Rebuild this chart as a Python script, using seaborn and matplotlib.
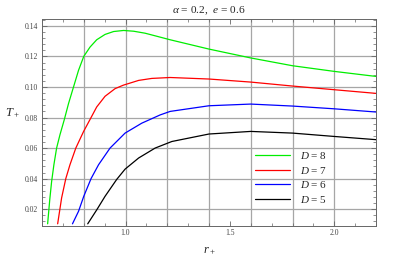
import matplotlib
matplotlib.use("Agg")
import matplotlib.pyplot as plt
import numpy as np
import pandas as pd
import seaborn as sns
from matplotlib.ticker import MultipleLocator, FixedLocator

sns.set_theme(style="ticks")
plt.rcParams['font.family'] = ['Liberation Serif', 'DejaVu Serif']
plt.rcParams['mathtext.fontset'] = 'custom'
plt.rcParams['mathtext.rm'] = 'Liberation Serif'
plt.rcParams['mathtext.it'] = 'Liberation Serif:italic'

# values
r_d8 = [0.627, 0.637, 0.646, 0.657, 0.670, 0.686, 0.707, 0.727, 0.751, 0.775, 0.8,
        0.830, 0.862, 0.902, 0.943, 0.991, 1.039, 1.094, 1.15, 1.214, 1.4, 1.6,
        1.8, 2.0, 2.2]
t_d8 = [0.0104, 0.0260, 0.038, 0.0491, 0.06, 0.0687, 0.0787, 0.0891, 0.10, 0.1109, 0.12,
        0.1261, 0.1309, 0.1344, 0.1363, 0.137, 0.1365, 0.1352, 0.1332, 0.1309, 0.1248, 0.119,
        0.1139, 0.1102, 0.1069]

r_d7 = [0.675, 0.694, 0.714, 0.734, 0.762, 0.799, 0.830, 0.862, 0.902, 0.950, 0.990,
        1.063, 1.126, 1.214, 1.4, 1.6, 1.8, 2.0, 2.2]
t_d7 = [0.0104, 0.0274, 0.04, 0.0491, 0.06, 0.0708, 0.0787, 0.0869, 0.0939, 0.0989, 0.1012,
        0.1043, 0.1056, 0.1062, 0.1052, 0.1032, 0.1006, 0.0982, 0.0958]

r_d6 = [0.746, 0.775, 0.8, 0.835, 0.871, 0.926, 0.998, 1.078, 1.166, 1.214, 1.4, 1.6,
        1.8, 2.0, 2.2]
t_d6 = [0.0104, 0.0186, 0.0284, 0.04, 0.0491, 0.06, 0.0698, 0.0763, 0.0817, 0.084, 0.0877,
        0.0888, 0.0875, 0.0857, 0.0836]

r_d5 = [0.819, 0.862, 0.902, 0.958, 0.998, 1.063, 1.142, 1.222, 1.4, 1.6, 1.8, 2.0, 2.2]
t_d5 = [0.0104, 0.0195, 0.0284, 0.0395, 0.0462, 0.0535, 0.06, 0.0643, 0.0692, 0.0709, 0.0698,
        0.0676, 0.0655]

labels = ["$D$ = 8", "$D$ = 7", "$D$ = 6", "$D$ = 5"]
colors = ["#00ee00", "#ff0000", "#0000ff", "#000000"]

frames = []
for lab, r, t in zip(labels, [r_d8, r_d7, r_d6, r_d5], [t_d8, t_d7, t_d6, t_d5]):
    frames.append(pd.DataFrame({"r": r, "T": t, "D": lab}))
data = pd.concat(frames, ignore_index=True)

fig = plt.figure(figsize=(4.15, 2.6), dpi=100)
ax = fig.add_axes([42/415, 1-225.5/260, 334/415, 206.5/260])

grid_x = [0.8, 1.0, 1.2, 1.4, 1.6, 1.8, 2.0]
grid_y = [0.02, 0.04, 0.06, 0.08, 0.10, 0.12, 0.14]
for gx in grid_x:
    ax.axvline(gx, color="#a6a6a6", lw=0.9, zorder=0)
for gy in grid_y:
    ax.axhline(gy, color="#a6a6a6", lw=0.9, zorder=0)

sns.lineplot(data=data, x="r", y="T", hue="D", hue_order=labels, palette=colors,
             estimator=None, sort=False, lw=0.9, ax=ax)

ax.set_xlim(0.6, 2.2)
ax.set_ylim(0.0093, 0.1445)

ax.xaxis.set_major_locator(FixedLocator([1.0, 1.5, 2.0]))
ax.xaxis.set_minor_locator(MultipleLocator(0.1))
ax.yaxis.set_major_locator(MultipleLocator(0.02))
ax.yaxis.set_minor_locator(MultipleLocator(0.004))
ax.set_xticklabels(["1.0", "1.5", "2.0"])
ax.set_yticklabels([f"{v:.2f}" for v in ax.get_yticks()])
ax.tick_params(which="both", direction="in", top=True, right=True,
               color="#666666", labelsize=5.5, labelcolor="#444444")
ax.tick_params(which="major", length=3.5, width=0.6)
ax.tick_params(which="minor", length=2, width=0.5)
ax.tick_params(axis="y", pad=3)
ax.tick_params(axis="x", pad=2.5)
ax.set_ylim(0.0093, 0.1445)
for s in ax.spines.values():
    s.set_color("#666666")
    s.set_linewidth(0.7)

ax.set_title(r"$\alpha$ = 0.2,  $e$ = 0.6", fontsize=8.2, pad=4)
ax.set_xlabel(r"$r_+$", fontsize=9)
ax.set_ylabel(r"$T_+$", fontsize=9, rotation=0)
ax.xaxis.set_label_coords(0.5, -0.095)
ax.yaxis.set_label_coords(-0.09, 0.51)

ax.legend(frameon=False, fontsize=8, handlelength=3.15, handletextpad=0.9,
          labelspacing=0.33, borderaxespad=0, loc="upper left",
          bbox_to_anchor=(250.6/415, 1-145.5/260), bbox_transform=fig.transFigure)

fig.savefig("out.png", dpi=100)
